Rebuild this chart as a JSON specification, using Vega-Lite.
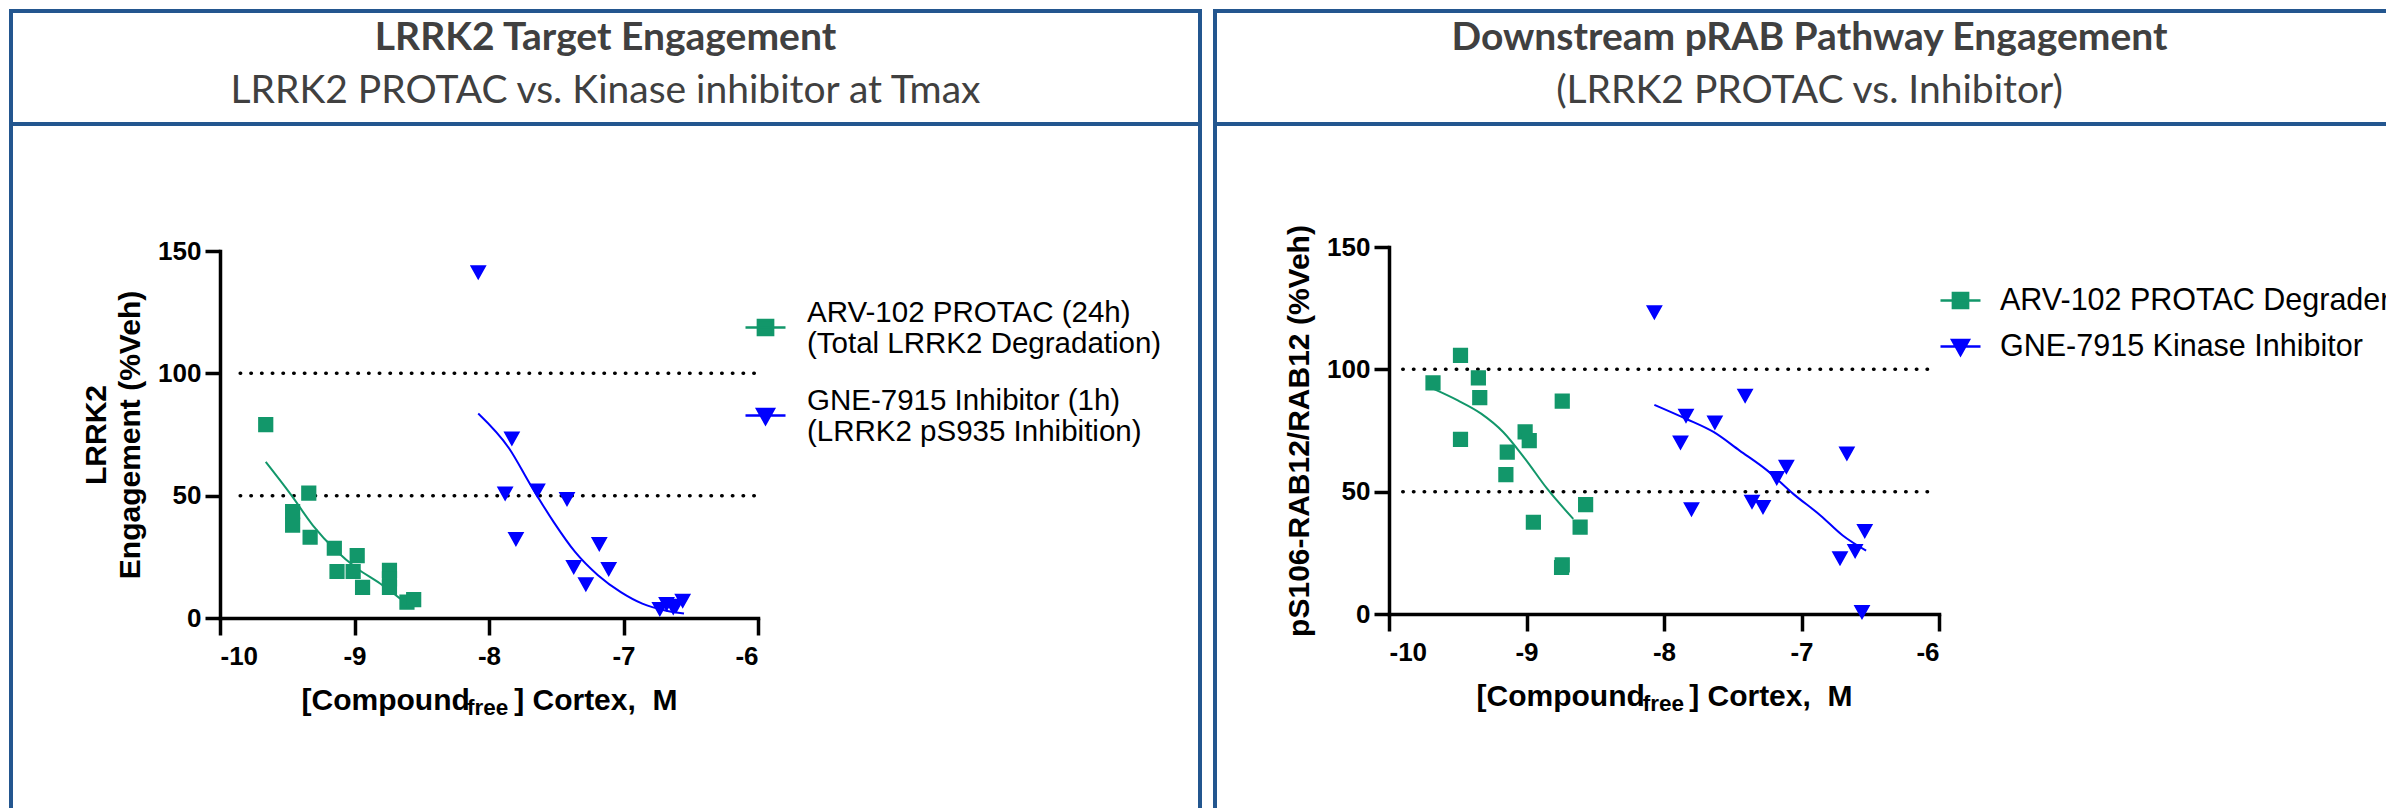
{
  "$schema": "https://vega.github.io/schema/vega-lite/v6.json",
  "padding": {"left": 9, "top": 9, "right": 0, "bottom": 0},
  "background": "white",
  "spacing": 11,
  "resolve": {"scale": {"color": "independent", "shape": "independent"}, "legend": {"color": "independent", "shape": "independent"}},
  "config": {
    "view": {"stroke": "#23568F", "strokeWidth": 4},
    "font": "Liberation Sans",
    "axis": {
      "grid": false, "domainColor": "black", "domainWidth": 3.5, "domainCap": "square",
      "tickColor": "black", "tickWidth": 3.5, "tickSize": 15,
      "labelFont": "Liberation Sans", "labelFontWeight": "bold", "labelFontSize": 26, "labelColor": "black", "labelPadding": 4,
      "titleFont": "Liberation Sans", "titleFontWeight": "bold", "titleFontSize": 30, "titleColor": "black"
    },
    "axisX": {"tickSize": 17, "labelPadding": 8},
    "legend": {
      "labelFont": "Liberation Sans", "labelColor": "black", "labelLimit": 700, "padding": 0,
      "symbolStrokeWidth": 2.5, "symbolSize": 1600
    }
  },
  "datasets": {
    "left": [
      {"k": "ref", "x": -9.85, "x2": -6.0, "y": 50},
      {"k": "ref", "x": -9.85, "x2": -6.0, "y": 100},
      {"k": "pt", "s": "A", "x": -9.66, "y": 79},
      {"k": "pt", "s": "A", "x": -9.46, "y": 43.5},
      {"k": "pt", "s": "A", "x": -9.46, "y": 38},
      {"k": "pt", "s": "A", "x": -9.34, "y": 51},
      {"k": "pt", "s": "A", "x": -9.33, "y": 33},
      {"k": "pt", "s": "A", "x": -9.15, "y": 28.5},
      {"k": "pt", "s": "A", "x": -9.13, "y": 19},
      {"k": "pt", "s": "A", "x": -9.01, "y": 19},
      {"k": "pt", "s": "A", "x": -8.98, "y": 25.5},
      {"k": "pt", "s": "A", "x": -8.94, "y": 12.5},
      {"k": "pt", "s": "A", "x": -8.74, "y": 19.5},
      {"k": "pt", "s": "A", "x": -8.74, "y": 16},
      {"k": "pt", "s": "A", "x": -8.74, "y": 12.5},
      {"k": "pt", "s": "A", "x": -8.61, "y": 6.5},
      {"k": "pt", "s": "A", "x": -8.56, "y": 7.5},
      {"k": "pt", "s": "B", "x": -8.08, "y": 141.5},
      {"k": "pt", "s": "B", "x": -7.83, "y": 73.5},
      {"k": "pt", "s": "B", "x": -7.88, "y": 51},
      {"k": "pt", "s": "B", "x": -7.80, "y": 32.5},
      {"k": "pt", "s": "B", "x": -7.64, "y": 52.3},
      {"k": "pt", "s": "B", "x": -7.42, "y": 48.8},
      {"k": "pt", "s": "B", "x": -7.37, "y": 21},
      {"k": "pt", "s": "B", "x": -7.28, "y": 14},
      {"k": "pt", "s": "B", "x": -7.18, "y": 30.4},
      {"k": "pt", "s": "B", "x": -7.11, "y": 20.2},
      {"k": "pt", "s": "B", "x": -6.73, "y": 3.8},
      {"k": "pt", "s": "B", "x": -6.68, "y": 5.9},
      {"k": "pt", "s": "B", "x": -6.63, "y": 4.5},
      {"k": "pt", "s": "B", "x": -6.61, "y": 5.2},
      {"k": "pt", "s": "B", "x": -6.56, "y": 7.2},
      {"k": "fit", "s": "A", "x": -9.66, "y": 63.8},
      {"k": "fit", "s": "A", "x": -9.47, "y": 50.2},
      {"k": "fit", "s": "A", "x": -9.31, "y": 37.9},
      {"k": "fit", "s": "A", "x": -9.14, "y": 27.7},
      {"k": "fit", "s": "A", "x": -8.98, "y": 20.2},
      {"k": "fit", "s": "A", "x": -8.81, "y": 14.1},
      {"k": "fit", "s": "A", "x": -8.66, "y": 7.9},
      {"k": "fit", "s": "B", "x": -8.08, "y": 83.6},
      {"k": "fit", "s": "B", "x": -7.85, "y": 69.3},
      {"k": "fit", "s": "B", "x": -7.69, "y": 54.3},
      {"k": "fit", "s": "B", "x": -7.52, "y": 39.3},
      {"k": "fit", "s": "B", "x": -7.36, "y": 27},
      {"k": "fit", "s": "B", "x": -7.19, "y": 17.5},
      {"k": "fit", "s": "B", "x": -7.02, "y": 10.6},
      {"k": "fit", "s": "B", "x": -6.86, "y": 5.9},
      {"k": "fit", "s": "B", "x": -6.69, "y": 3.1},
      {"k": "fit", "s": "B", "x": -6.55, "y": 1.8}
    ],
    "right": [
      {"k": "ref", "x": -9.9, "x2": -6.05, "y": 50},
      {"k": "ref", "x": -9.9, "x2": -6.05, "y": 100},
      {"k": "pt", "s": "A", "x": -9.68, "y": 94.5},
      {"k": "pt", "s": "A", "x": -9.48, "y": 105.7},
      {"k": "pt", "s": "A", "x": -9.48, "y": 71.4},
      {"k": "pt", "s": "A", "x": -9.35, "y": 96.5},
      {"k": "pt", "s": "A", "x": -9.34, "y": 88.4},
      {"k": "pt", "s": "A", "x": -9.14, "y": 66.2},
      {"k": "pt", "s": "A", "x": -9.15, "y": 57},
      {"k": "pt", "s": "A", "x": -9.01, "y": 74.4},
      {"k": "pt", "s": "A", "x": -8.98, "y": 70.9},
      {"k": "pt", "s": "A", "x": -8.95, "y": 37.5},
      {"k": "pt", "s": "A", "x": -8.74, "y": 87},
      {"k": "pt", "s": "A", "x": -8.74, "y": 20.1},
      {"k": "pt", "s": "A", "x": -8.745, "y": 19},
      {"k": "pt", "s": "A", "x": -8.61, "y": 35.5},
      {"k": "pt", "s": "A", "x": -8.57, "y": 44.7},
      {"k": "pt", "s": "B", "x": -8.07, "y": 123.5},
      {"k": "pt", "s": "B", "x": -7.84, "y": 81.2},
      {"k": "pt", "s": "B", "x": -7.88, "y": 70.3},
      {"k": "pt", "s": "B", "x": -7.80, "y": 43},
      {"k": "pt", "s": "B", "x": -7.63, "y": 78.4},
      {"k": "pt", "s": "B", "x": -7.41, "y": 89.4},
      {"k": "pt", "s": "B", "x": -7.36, "y": 46},
      {"k": "pt", "s": "B", "x": -7.28, "y": 43.9},
      {"k": "pt", "s": "B", "x": -7.18, "y": 55.7},
      {"k": "pt", "s": "B", "x": -7.11, "y": 60.3},
      {"k": "pt", "s": "B", "x": -6.67, "y": 65.8},
      {"k": "pt", "s": "B", "x": -6.72, "y": 22.9},
      {"k": "pt", "s": "B", "x": -6.61, "y": 25.9},
      {"k": "pt", "s": "B", "x": -6.54, "y": 34.1},
      {"k": "pt", "s": "B", "x": -6.56, "y": 1},
      {"k": "fit", "s": "A", "x": -9.68, "y": 92.1},
      {"k": "fit", "s": "A", "x": -9.50, "y": 87.3},
      {"k": "fit", "s": "A", "x": -9.33, "y": 81.9},
      {"k": "fit", "s": "A", "x": -9.17, "y": 74.4},
      {"k": "fit", "s": "A", "x": -9.01, "y": 63.4},
      {"k": "fit", "s": "A", "x": -8.85, "y": 51.2},
      {"k": "fit", "s": "A", "x": -8.66, "y": 38.9},
      {"k": "fit", "s": "B", "x": -8.07, "y": 85.5},
      {"k": "fit", "s": "B", "x": -7.84, "y": 79.8},
      {"k": "fit", "s": "B", "x": -7.64, "y": 74.4},
      {"k": "fit", "s": "B", "x": -7.45, "y": 66.8},
      {"k": "fit", "s": "B", "x": -7.25, "y": 58.7},
      {"k": "fit", "s": "B", "x": -7.06, "y": 49.1},
      {"k": "fit", "s": "B", "x": -6.86, "y": 40.2},
      {"k": "fit", "s": "B", "x": -6.70, "y": 32.1},
      {"k": "fit", "s": "B", "x": -6.53, "y": 25.9}
    ]
  },
  "hconcat": [
    {
      "spacing": 0,
      "bounds": "flush",
      "vconcat": [
        {
          "width": 1189, "height": 113,
          "data": {"values": [{"t": "LRRK2 Target Engagement", "sub": "LRRK2 PROTAC vs. Kinase inhibitor at Tmax", "p": 0.5}]},
          "encoding": {
            "x": {"field": "p", "type": "quantitative", "scale": {"domain": [0, 1]}, "axis": null},
            "y": {"field": "p", "type": "quantitative", "scale": {"domain": [0, 1]}, "axis": null}
          },
          "layer": [
            {"mark": {"type": "text", "font": "Lato", "fontWeight": "bold", "fontSize": 39, "color": "#404040", "dy": -30}, "encoding": {"text": {"field": "t"}}},
            {"mark": {"type": "text", "font": "Lato", "fontSize": 39, "color": "#404040", "dy": 23}, "encoding": {"text": {"field": "sub"}}}
          ]
        },
        {
          "width": 1189, "height": 700,
          "data": {"name": "left"},
          "transform": [{"calculate": "datum.s == 'A' ? 'ARV-102 PROTAC (24h)|(Total LRRK2 Degradation)' : 'GNE-7915 Inhibitor (1h)|(LRRK2 pS935 Inhibition)'", "as": "series"}],
          "layer": [
            {"transform": [{"filter": "datum.k == 'ref'"}],
             "mark": {"type": "rule", "strokeDash": [0.5, 10.2], "strokeCap": "round", "strokeWidth": 3.5, "color": "black"},
             "encoding": {
               "x": {"field": "x", "type": "quantitative",
                 "scale": {"domain": [-10, -6], "range": [209, 747], "nice": false, "zero": false},
                 "axis": {"values": [-10, -9, -8, -7, -6], "labelExpr": "'' + datum.value", "offset": -206, "title": "[Compound\u2002\u2002\u2009 ] Cortex,\u00a0 M", "titlePadding": 16}},
               "y": {"field": "y", "type": "quantitative",
                 "scale": {"domain": [0, 150], "range": [494, 127], "nice": false, "zero": false},
                 "axis": {"values": [0, 50, 100, 150], "labelExpr": "'' + datum.value", "offset": -209, "title": ["LRRK2", "Engagement (%Veh)"], "titlePadding": 12, "titleLineHeight": 34}},
               "x2": {"field": "x2"}}},
            {"transform": [{"filter": "datum.k == 'fit'"}],
             "mark": {"type": "line", "strokeWidth": 2, "interpolate": "monotone"},
             "encoding": {
               "x": {"field": "x", "type": "quantitative"},
               "y": {"field": "y", "type": "quantitative"},
               "color": {"field": "series", "type": "nominal",
               "scale": {"domain": ["ARV-102 PROTAC (24h)|(Total LRRK2 Degradation)", "GNE-7915 Inhibitor (1h)|(LRRK2 pS935 Inhibition)"], "range": ["#12976A", "#0000FF"]},
               "legend": {"orient": "none", "legendX": 733, "legendY": 295, "title": null, "labelExpr": "split(datum.label, '|')", "labelFontSize": 29.5, "labelBaseline": "bottom", "labelOffset": 20, "rowPadding": 26}}}},
            {"transform": [{"filter": "datum.k == 'pt'"}],
             "mark": {"type": "point", "filled": true, "opacity": 1},
             "encoding": {
               "x": {"field": "x", "type": "quantitative"},
               "y": {"field": "y", "type": "quantitative"},
               "color": {"field": "series", "type": "nominal",
                 "scale": {"domain": ["ARV-102 PROTAC (24h)|(Total LRRK2 Degradation)", "GNE-7915 Inhibitor (1h)|(LRRK2 pS935 Inhibition)"], "range": ["#12976A", "#0000FF"]},
                 "legend": {"orient": "none", "legendX": 733, "legendY": 295, "title": null, "labelExpr": "split(datum.label, '|')", "labelFontSize": 29.5, "labelBaseline": "bottom", "labelOffset": 20, "rowPadding": 26}},
               "shape": {"field": "series", "type": "nominal",
                 "scale": {"domain": ["ARV-102 PROTAC (24h)|(Total LRRK2 Degradation)", "GNE-7915 Inhibitor (1h)|(LRRK2 pS935 Inhibition)"], "range": ["M-0.38,-0.38H0.38V0.38H-0.38Z M-1,0H1", "M-0.42,-0.33H0.42L0,0.42Z M-1,0H1"]},
                 "legend": {"orient": "none", "legendX": 733, "legendY": 295, "title": null, "labelExpr": "split(datum.label, '|')", "labelFontSize": 29.5, "labelBaseline": "bottom", "labelOffset": 20, "rowPadding": 26}},
               "size": {"value": 1600}
             }},
            {"data": {"values": [{"t": "free"}]},
             "mark": {"type": "text", "font": "Liberation Sans", "fontWeight": "bold", "fontSize": 22.5, "color": "black", "align": "left", "baseline": "alphabetic"},
             "encoding": {"x": {"datum": -8.164, "type": "quantitative"}, "y": {"datum": -39.5, "type": "quantitative"}, "text": {"field": "t"}}}
          ]
        }
      ]
    },
    {
      "spacing": 0,
      "bounds": "flush",
      "vconcat": [
        {
          "width": 1189, "height": 113,
          "data": {"values": [{"t": "Downstream pRAB Pathway Engagement", "sub": "(LRRK2 PROTAC vs. Inhibitor)", "p": 0.5}]},
          "encoding": {
            "x": {"field": "p", "type": "quantitative", "scale": {"domain": [0, 1]}, "axis": null},
            "y": {"field": "p", "type": "quantitative", "scale": {"domain": [0, 1]}, "axis": null}
          },
          "layer": [
            {"mark": {"type": "text", "font": "Lato", "fontWeight": "bold", "fontSize": 39, "color": "#404040", "dy": -30}, "encoding": {"text": {"field": "t"}}},
            {"mark": {"type": "text", "font": "Lato", "fontSize": 39, "color": "#404040", "dy": 23}, "encoding": {"text": {"field": "sub"}}}
          ]
        },
        {
          "width": 1189, "height": 700,
          "data": {"name": "right"},
          "transform": [{"calculate": "datum.s == 'A' ? 'ARV-102 PROTAC Degrader' : 'GNE-7915 Kinase Inhibitor'", "as": "series"}],
          "layer": [
            {"transform": [{"filter": "datum.k == 'ref'"}],
             "mark": {"type": "rule", "strokeDash": [0.5, 10.2], "strokeCap": "round", "strokeWidth": 3.5, "color": "black"},
             "encoding": {
               "x": {"field": "x", "type": "quantitative",
                 "scale": {"domain": [-10, -6], "range": [174, 724], "nice": false, "zero": false},
                 "axis": {"values": [-10, -9, -8, -7, -6], "labelExpr": "'' + datum.value", "offset": -210, "title": "[Compound\u2002\u2002\u2009 ] Cortex,\u00a0 M", "titlePadding": 16}},
               "y": {"field": "y", "type": "quantitative",
                 "scale": {"domain": [0, 150], "range": [490, 123], "nice": false, "zero": false},
                 "axis": {"values": [0, 50, 100, 150], "labelExpr": "'' + datum.value", "offset": -174, "title": "pS106-RAB12/RAB12 (%Veh)", "titlePadding": 12}},
               "x2": {"field": "x2"}}},
            {"transform": [{"filter": "datum.k == 'fit'"}],
             "mark": {"type": "line", "strokeWidth": 2, "interpolate": "monotone"},
             "encoding": {
               "x": {"field": "x", "type": "quantitative"},
               "y": {"field": "y", "type": "quantitative"},
               "color": {"field": "series", "type": "nominal",
               "scale": {"domain": ["ARV-102 PROTAC Degrader", "GNE-7915 Kinase Inhibitor"], "range": ["#12976A", "#0000FF"]},
               "legend": {"orient": "none", "legendX": 724, "legendY": 268, "title": null, "labelFontSize": 30.5, "labelOffset": 18, "rowPadding": 9}}}},
            {"transform": [{"filter": "datum.k == 'pt'"}],
             "mark": {"type": "point", "filled": true, "opacity": 1},
             "encoding": {
               "x": {"field": "x", "type": "quantitative"},
               "y": {"field": "y", "type": "quantitative"},
               "color": {"field": "series", "type": "nominal",
                 "scale": {"domain": ["ARV-102 PROTAC Degrader", "GNE-7915 Kinase Inhibitor"], "range": ["#12976A", "#0000FF"]},
                 "legend": {"orient": "none", "legendX": 724, "legendY": 268, "title": null, "labelFontSize": 30.5, "labelOffset": 18, "rowPadding": 9}},
               "shape": {"field": "series", "type": "nominal",
                 "scale": {"domain": ["ARV-102 PROTAC Degrader", "GNE-7915 Kinase Inhibitor"], "range": ["M-0.38,-0.38H0.38V0.38H-0.38Z M-1,0H1", "M-0.42,-0.33H0.42L0,0.42Z M-1,0H1"]},
                 "legend": {"orient": "none", "legendX": 724, "legendY": 268, "title": null, "labelFontSize": 30.5, "labelOffset": 18, "rowPadding": 9}},
               "size": {"value": 1600}
             }},
            {"data": {"values": [{"t": "free"}]},
             "mark": {"type": "text", "font": "Liberation Sans", "fontWeight": "bold", "fontSize": 22.5, "color": "black", "align": "left", "baseline": "alphabetic"},
             "encoding": {"x": {"datum": -8.154, "type": "quantitative"}, "y": {"datum": -39.5, "type": "quantitative"}, "text": {"field": "t"}}}
          ]
        }
      ]
    }
  ]
}
